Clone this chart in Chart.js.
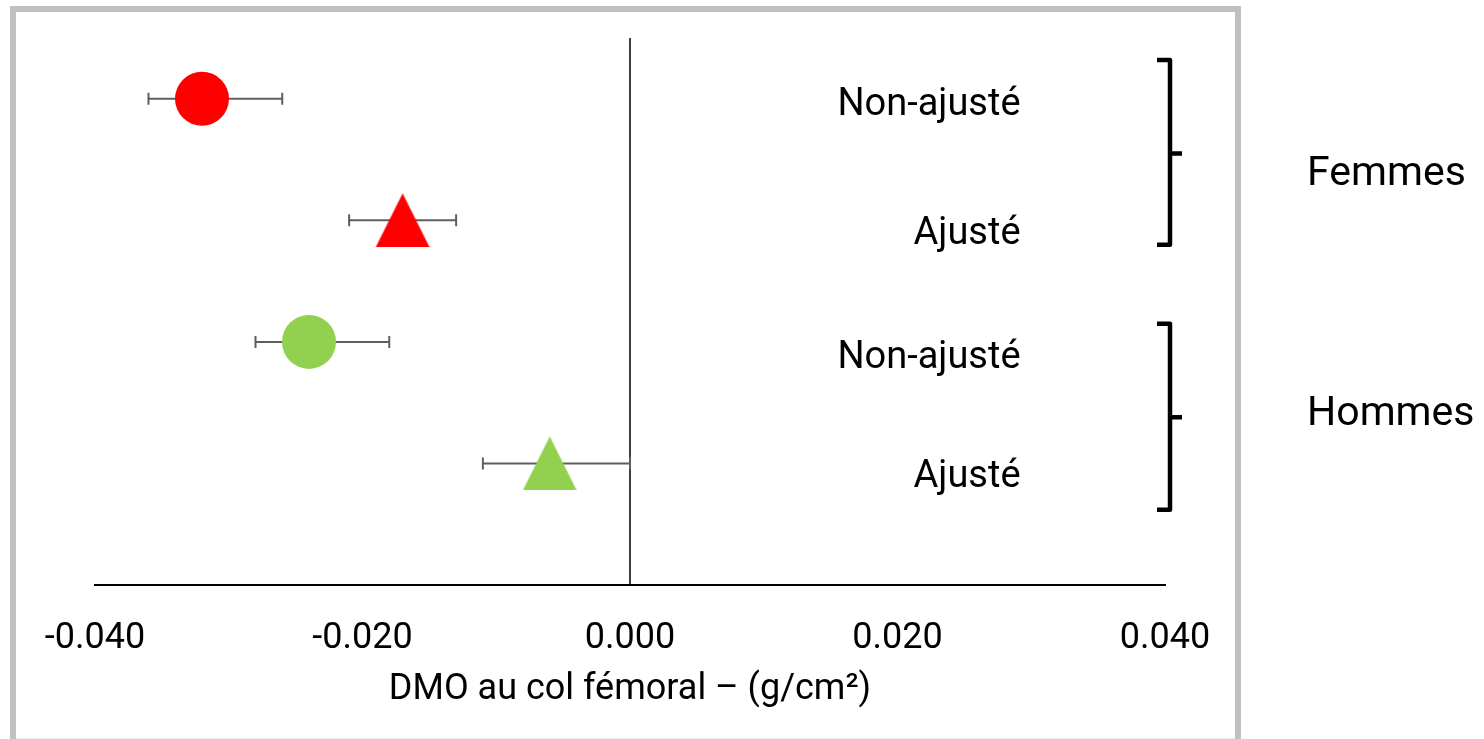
<!DOCTYPE html>
<html>
<head>
<meta charset="utf-8">
<script src="https://cdn.jsdelivr.net/npm/chart.js@4/dist/chart.umd.min.js"></script>
<style>
html,body{margin:0;padding:0;background:#fff;}
#wrap{position:relative;width:1484px;height:739px;}
</style>
</head>
<body>
<div id="wrap"><canvas id="c" width="1484" height="739"></canvas></div>
<script>
// ---- data ----
const rowLabels = ['Non-ajusté', 'Ajusté', 'Non-ajusté', 'Ajusté'];
const groupLabels = ['Femmes', 'Hommes'];
const rowRank = [4, 3, 2, 1];                 // row order from top to bottom
const femmesEst  = [-0.032, -0.017];
const femmesLow  = [-0.036, -0.021];
const femmesHigh = [-0.026, -0.013];
const hommesEst  = [-0.024, -0.006];
const hommesLow  = [-0.028, -0.011];
const hommesHigh = [-0.018, 0.000];
const xTicks = [-0.04, -0.02, 0, 0.02, 0.04];
const axisTitle = 'DMO au col fémoral – (g/cm²)';

// ---- styles ----
const RED = '#ff0000', GREEN = '#92d050';
function makeTriangle(color){
  const cv = document.createElement('canvas');
  cv.width = 54; cv.height = 54;
  const g = cv.getContext('2d');
  g.fillStyle = color;
  g.beginPath(); g.moveTo(27,0); g.lineTo(54,54); g.lineTo(0,54); g.closePath(); g.fill();
  return cv;
}
const triRed = makeTriangle(RED), triGreen = makeTriangle(GREEN);

const datasets = [
  {
    label: groupLabels[0],
    data: femmesEst.map((v,i)=>({x:v, y:rowRank[i], lo:femmesLow[i], hi:femmesHigh[i]})),
    pointStyle: ['circle', triRed],
    backgroundColor: RED, borderColor: RED, borderWidth: 0,
    pointRadius: 27, pointHoverRadius: 27
  },
  {
    label: groupLabels[1],
    data: hommesEst.map((v,i)=>({x:v, y:rowRank[i+2], lo:hommesLow[i], hi:hommesHigh[i]})),
    pointStyle: ['circle', triGreen],
    backgroundColor: GREEN, borderColor: GREEN, borderWidth: 0,
    pointRadius: 27, pointHoverRadius: 27
  }
];

const FONT = 'Roboto';

const framePlugin = {
  id: 'frame',
  beforeDraw(chart){
    const ctx = chart.ctx;
    ctx.save();
    ctx.fillStyle = '#fff';
    ctx.fillRect(0,0,chart.width,chart.height);
    ctx.strokeStyle = '#c0c0c0';
    ctx.lineWidth = 6;
    ctx.strokeRect(13, 9, 1225, 800);
    ctx.strokeStyle = '#ececec';
    ctx.lineWidth = 1;
    ctx.beginPath(); ctx.moveTo(16, 738.5); ctx.lineTo(1235, 738.5); ctx.stroke();
    ctx.restore();
  }
};

const errorBarPlugin = {
  id: 'errorBars',
  beforeDatasetsDraw(chart){
    const {ctx, scales:{x, y}, chartArea} = chart;
    ctx.save();
    // zero line
    ctx.strokeStyle = '#000'; ctx.lineWidth = 1.5;
    const x0 = x.getPixelForValue(0);
    ctx.beginPath(); ctx.moveTo(x0, chartArea.top); ctx.lineTo(x0, chartArea.bottom); ctx.stroke();
    // error bars
    ctx.strokeStyle = '#5f5f5f'; ctx.lineWidth = 2;
    chart.data.datasets.forEach(ds=>{
      ds.data.forEach(p=>{
        const py = y.getPixelForValue(p.y);
        const a = x.getPixelForValue(p.lo), b = x.getPixelForValue(p.hi);
        ctx.beginPath();
        ctx.moveTo(a, py); ctx.lineTo(b, py);
        ctx.moveTo(a, py-6); ctx.lineTo(a, py+6);
        ctx.moveTo(b, py-6); ctx.lineTo(b, py+6);
        ctx.stroke();
      });
    });
    ctx.restore();
  },
  afterDatasetsDraw(chart){
    const {ctx, scales:{x, y}, chartArea} = chart;
    ctx.save();
    ctx.fillStyle = '#000';
    ctx.font = '38px ' + FONT;
    ctx.textAlign = 'right'; ctx.textBaseline = 'middle';
    const lx = x.getPixelForValue(0.0292);
    const off = [7, 14, 17, 14];
    rowLabels.forEach((t,i)=>{
      ctx.fillText(t, lx, y.getPixelForValue(rowRank[i]) + off[i]);
    });
    // brackets
    ctx.strokeStyle = '#000'; ctx.lineWidth = 4.5; ctx.lineJoin = 'round'; ctx.lineCap = 'butt';
    const bx = chartArea.right + 5;
    const groups = [[4.32, 3.55, 2.80], [2.15, 1.38, 0.62]];
    const gOff = [21, -3];
    ctx.font = '41px ' + FONT; ctx.textAlign = 'left';
    groups.forEach((g,i)=>{
      const t = y.getPixelForValue(g[0]), m = y.getPixelForValue(g[1]), b = y.getPixelForValue(g[2]);
      ctx.beginPath();
      ctx.moveTo(bx-13, t); ctx.lineTo(bx, t); ctx.lineTo(bx, b); ctx.lineTo(bx-13, b);
      ctx.moveTo(bx, m); ctx.lineTo(bx+12, m);
      ctx.stroke();
      ctx.fillText(groupLabels[i], chartArea.right + 142, m + gOff[i]);
    });
    ctx.restore();
  }
};

new Chart(document.getElementById('c'), {
  type: 'scatter',
  data: { datasets },
  options: {
    responsive: false,
    animation: false,
    events: [],
    layout: { padding: { left: 95, right: 319, top: 38, bottom: 0 } },
    plugins: { legend: { display: false }, tooltip: { enabled: false } },
    scales: {
      x: {
        type: 'linear', min: -0.04, max: 0.04,
        afterBuildTicks(s){ s.ticks = xTicks.map(v=>({value:v})); },
        afterFit(s){ s.height = 154; },
        grid: { display: false, drawTicks: false },
        border: { display: true, color: '#000', width: 2 },
        ticks: {
          padding: 32, color: '#000',
          font: { family: FONT, size: 36 },
          callback: v => (Math.abs(v) < 1e-9 ? 0 : v).toFixed(3)
        },
        title: {
          display: true, text: axisTitle, color: '#000',
          font: { family: FONT, size: 36 },
          padding: { top: 0, bottom: 27 }
        }
      },
      y: {
        type: 'linear', min: 0, max: 4.5, display: false
      }
    }
  },
  plugins: [framePlugin, errorBarPlugin]
});
</script>
</body>
</html>
